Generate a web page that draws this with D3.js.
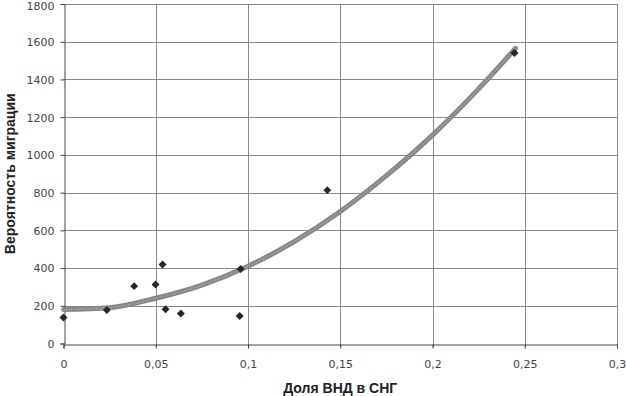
<!DOCTYPE html>
<html><head><meta charset="utf-8">
<script src="https://cdn.jsdelivr.net/npm/d3@7"></script>
<style>body{margin:0;background:#fff;}svg{display:block;}</style>
</head><body>
<script>
const xValues = [0, 0.0235, 0.0383, 0.0499, 0.0537, 0.0553, 0.0636, 0.0955, 0.0960, 0.1430, 0.2444];
const yValues = [138, 177, 304, 313, 419, 182, 159, 146, 395, 813, 1540];
const trendX = [0, 0.025, 0.05, 0.075, 0.1, 0.125, 0.15, 0.175, 0.2, 0.225, 0.245];
const trendY = [180, 190, 240, 310, 410, 540, 700, 890, 1105, 1350, 1565];
const xTicks = [0, 0.05, 0.1, 0.15, 0.2, 0.25, 0.3];
const xTickLabels = ["0", "0,05", "0,1", "0,15", "0,2", "0,25", "0,3"];
const yTicks = [0, 200, 400, 600, 800, 1000, 1200, 1400, 1600, 1800];
const xTitle = "Доля ВНД в СНГ";
const yTitle = "Вероятность миграции";

const W = 626, H = 396;
const m = {left: 63.5, right: 9, top: 4, bottom: 52.5};
const svg = d3.select("body").append("svg").attr("width", W).attr("height", H);
const x = d3.scaleLinear().domain([0, 0.3]).range([m.left, W - m.right]);
const y = d3.scaleLinear().domain([0, 1800]).range([H - m.bottom, m.top]);

const g = svg.append("g");
g.selectAll(".hg").data(yTicks.slice(1)).join("line")
  .attr("x1", x(0)).attr("x2", x(0.3))
  .attr("y1", d => Math.round(y(d)) + 0.5).attr("y2", d => Math.round(y(d)) + 0.5)
  .attr("stroke", "#8a8a8a").attr("stroke-width", 1);
g.selectAll(".vg").data(xTicks.slice(1)).join("line")
  .attr("x1", d => Math.round(x(d)) + 0.5).attr("x2", d => Math.round(x(d)) + 0.5)
  .attr("y1", y(1800)).attr("y2", y(0) + 4)
  .attr("stroke", "#8a8a8a").attr("stroke-width", 1);

const xAxis = d3.axisBottom(x).tickValues(xTicks).tickFormat((d, i) => xTickLabels[i]).tickSize(4).tickPadding(12);
const yAxis = d3.axisLeft(y).tickValues(yTicks).tickFormat(d => d).tickSize(4).tickPadding(6);
const gx = svg.append("g").attr("transform", `translate(0,${Math.round(y(0)) + 0.5})`).call(xAxis);
const gy = svg.append("g").attr("transform", `translate(${Math.round(x(0)) + 0.5},0)`).call(yAxis);
[gx, gy].forEach(a => {
  a.select(".domain").attr("stroke", "#444");
  a.selectAll(".tick line").attr("stroke", "#444");
  a.selectAll("text").attr("font-family", "DejaVu Sans, Verdana, sans-serif").attr("font-size", 11).attr("fill", "#444");
});
gy.selectAll(".tick text").attr("dy", d => d === 1800 ? "0.5em" : "0.35em");

const line = d3.line().x((d, i) => x(d)).y((d, i) => y(trendY[i])).curve(d3.curveMonotoneX);
svg.append("path").datum(trendX).attr("d", line)
  .attr("fill", "none").attr("stroke", "#858585").attr("stroke-width", 5).attr("stroke-linecap", "round");
svg.append("path").datum(trendX).attr("d", line)
  .attr("fill", "none").attr("stroke", "#aaaaaa").attr("stroke-width", 2).attr("stroke-dasharray", "1,1.5");

const sym = d3.symbol().type(d3.symbolDiamond2).size(40);
svg.selectAll(".pt").data(xValues).join("path")
  .attr("transform", (d, i) => `translate(${x(d)},${y(yValues[i])})`)
  .attr("d", sym).attr("fill", "#262626");

svg.append("text").attr("x", (x(0) + x(0.3)) / 2).attr("y", 393)
  .attr("text-anchor", "middle").attr("font-family", "Liberation Sans, Arial, sans-serif")
  .attr("font-weight", "bold").attr("font-size", 14).attr("fill", "#222").text(xTitle);
svg.append("text").attr("transform", `translate(15,${(y(0) + y(1800)) / 2}) rotate(-90)`)
  .attr("text-anchor", "middle").attr("font-family", "Liberation Sans, Arial, sans-serif")
  .attr("font-weight", "bold").attr("font-size", 14).attr("fill", "#222").text(yTitle);
</script>
</body></html>
